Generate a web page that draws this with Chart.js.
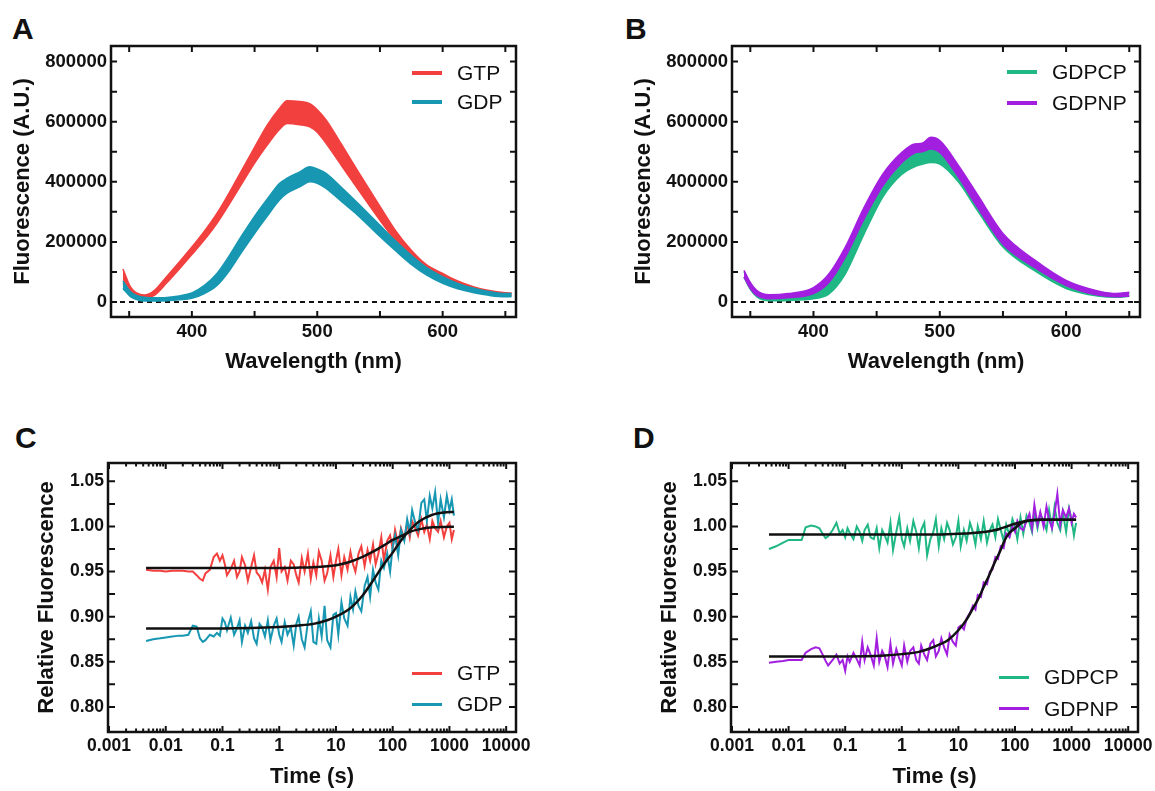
<!DOCTYPE html>
<html>
<head>
<meta charset="utf-8">
<title>Fluorescence spectra and kinetics</title>
<script src="https://cdn.jsdelivr.net/npm/chart.js@4.4.1/dist/chart.umd.min.js"></script>
<style>
  html, body { margin: 0; padding: 0; background: #fff; }
  body { width: 1155px; height: 791px; position: relative; overflow: hidden; font-family: "Liberation Sans", Arial, sans-serif; color: #111; }
  canvas { position: absolute; }
  .panel-letter { position: absolute; font-weight: bold; font-size: 30px; line-height: 30px; }
  .legend-row { position: absolute; height: 24px; line-height: 24px; font-size: 21px; white-space: nowrap; display: flex; align-items: center; }
  .legend-line { display: inline-block; width: 30px; margin-right: 15px; }
</style>
</head>
<body>
<div class="panel-letter" style="left:12px;top:14px">A</div>
<div class="panel-letter" style="left:625px;top:14px">B</div>
<div class="panel-letter" style="left:15px;top:423px">C</div>
<div class="panel-letter" style="left:633px;top:423px">D</div>
<canvas id="chartA"></canvas>
<canvas id="chartB"></canvas>
<canvas id="chartC"></canvas>
<canvas id="chartD"></canvas>

<script>
// ===============================
// Data (A, B: emission spectra, band = spread of replicates)
// ===============================
const wavelengthsA = [345, 351, 356, 362, 370, 380, 390, 400, 410, 420, 430, 440, 450, 460, 470, 476, 486, 494, 500, 507, 520, 532, 550, 562, 575, 587, 600, 612, 625, 637, 650, 655];
const gtpHigh = [110000, 50000, 30000, 23000, 38000, 85000, 133000, 183000, 236000, 295000, 365000, 440000, 515000, 588000, 645000, 670000, 667000, 660000, 640000, 606000, 520000, 438000, 318000, 240000, 172000, 124000, 95000, 70000, 50000, 38000, 31000, 30000];
const gtpLow = [62000, 35000, 18000, 12000, 22000, 64000, 110000, 158000, 207000, 262000, 327000, 395000, 462000, 522000, 575000, 594000, 590000, 583000, 565000, 528000, 450000, 378000, 272000, 206000, 144000, 102000, 76000, 55000, 36000, 26000, 20000, 22000];
const gdpHigh = [70000, 35000, 22000, 16000, 14000, 15000, 20000, 30000, 55000, 95000, 155000, 222000, 285000, 342000, 395000, 412000, 433000, 450000, 443000, 428000, 378000, 330000, 255000, 205000, 155000, 115000, 84000, 62000, 46000, 35000, 28000, 28000];
const gdpLow = [45000, 18000, 8000, 3000, 3000, 4000, 7000, 12000, 28000, 55000, 105000, 168000, 228000, 285000, 340000, 362000, 383000, 400000, 395000, 378000, 332000, 290000, 218000, 172000, 125000, 90000, 62000, 44000, 31000, 22000, 17000, 18000];

const wavelengthsB = [345, 350, 355, 365, 380, 400, 412, 425, 440, 455, 470, 480, 486, 493, 500, 515, 530, 550, 575, 600, 625, 640, 650];
const gdpcpHigh = [101000, 60000, 34000, 17000, 15000, 33000, 64000, 148000, 281000, 398000, 470000, 498000, 505000, 514000, 511000, 437000, 337000, 214000, 128000, 62000, 34000, 27000, 30000];
const gdpcpLow = [83000, 42000, 18000, 4000, 5000, 11000, 26000, 92000, 226000, 350000, 425000, 450000, 458000, 464000, 459000, 398000, 303000, 183000, 104000, 45000, 20000, 16000, 19000];
const gdpnpHigh = [105000, 65000, 39000, 24000, 28000, 48000, 92000, 181000, 314000, 426000, 498000, 526000, 528000, 548000, 537000, 453000, 356000, 228000, 140000, 72000, 37000, 28000, 32000];
const gdpnpLow = [83000, 45000, 22000, 11000, 14000, 28000, 64000, 148000, 276000, 387000, 464000, 496000, 500000, 509000, 498000, 414000, 314000, 192000, 115000, 55000, 23000, 17000, 20000];

const fluorTicks = [0, 200000, 400000, 600000, 800000];
const fluorTickLabels = ["0", "200000", "400000", "600000", "800000"];
const fluorMinorTicks = [100000, 300000, 500000, 700000];
const wavelengthTicks = [400, 500, 600];
const wavelengthTickLabels = ["400", "500", "600"];
const wavelengthMinorTicks = [350, 450, 550, 650];

// ===============================
// Data (C, D: kinetics, log time)
// ===============================
const timesCD = [0.0045, 0.006, 0.008, 0.01, 0.013, 0.017, 0.02, 0.025, 0.03, 0.035,
  0.04, 0.045, 0.05, 0.06, 0.07, 0.08, 0.09, 0.1, 0.11, 0.12,
  0.14, 0.16, 0.18, 0.2, 0.22, 0.25, 0.28, 0.32, 0.36, 0.4,
  0.45, 0.5, 0.56, 0.63, 0.7, 0.8, 0.9, 1, 1.1, 1.25,
  1.4, 1.6, 1.8, 2, 2.2, 2.5, 2.8, 3.2, 3.6, 4,
  4.5, 5, 5.6, 6.3, 7, 8, 9, 10, 11, 12.5,
  14, 16, 18, 20, 22, 25, 28, 32, 36, 40,
  45, 50, 56, 63, 70, 80, 90, 100, 110, 125,
  140, 160, 180, 200, 220, 250, 280, 320, 360, 400,
  450, 500, 560, 630, 700, 800, 900, 1000, 1100, 1200];

const gtpKinetics = [0.952, 0.951, 0.951, 0.950, 0.951, 0.951, 0.951, 0.950, 0.950, 0.946,
  0.942, 0.940, 0.948, 0.952, 0.966, 0.970, 0.962, 0.968, 0.958, 0.946,
  0.953, 0.962, 0.944, 0.950, 0.966, 0.957, 0.940, 0.955, 0.968, 0.949,
  0.945, 0.938, 0.952, 0.930, 0.955, 0.962, 0.944, 0.976, 0.950, 0.955,
  0.940, 0.962, 0.958, 0.946, 0.938, 0.965, 0.950, 0.970, 0.942, 0.960,
  0.946, 0.972, 0.962, 0.940, 0.948, 0.968, 0.944, 0.962, 0.975, 0.946,
  0.966, 0.952, 0.972, 0.958, 0.950, 0.970, 0.978, 0.956, 0.974, 0.962,
  0.980, 0.958, 0.970, 0.988, 0.962, 0.984, 0.990, 0.975, 0.996, 0.980,
  0.998, 0.986, 1.004, 0.988, 1.006, 0.998, 0.990, 1.008, 0.994, 1.002,
  0.986, 1.006, 0.998, 0.994, 1.006, 0.988, 1.000, 1.004, 0.986, 0.996];

const gdpKinetics = [0.873, 0.875, 0.876, 0.877, 0.878, 0.879, 0.879, 0.880, 0.890, 0.889,
  0.876, 0.872, 0.874, 0.880, 0.878, 0.882, 0.879, 0.898, 0.894, 0.885,
  0.899, 0.880, 0.887, 0.896, 0.872, 0.890, 0.882, 0.895, 0.876, 0.870,
  0.892, 0.888, 0.878, 0.896, 0.874, 0.890, 0.898, 0.880, 0.872, 0.894,
  0.880, 0.888, 0.868, 0.892, 0.900, 0.875, 0.866, 0.894, 0.906, 0.872,
  0.870, 0.898, 0.878, 0.912, 0.874, 0.866, 0.902, 0.904, 0.880, 0.916,
  0.898, 0.890, 0.922, 0.908, 0.928, 0.912, 0.906, 0.934, 0.944, 0.922,
  0.952, 0.938, 0.930, 0.962, 0.954, 0.970, 0.950, 0.978, 0.990, 0.968,
  0.996, 0.984, 1.008, 0.994, 1.018, 1.004, 0.996, 1.026, 1.030, 1.006,
  1.034, 1.020, 1.038, 1.004, 1.030, 1.010, 1.034, 1.018, 1.030, 1.012];

const gdpcpKinetics = [0.975, 0.978, 0.982, 0.985, 0.985, 0.985, 0.999, 1.001, 1.000, 0.998,
  0.992, 0.987, 0.989, 0.996, 1.004, 0.992, 0.996, 0.988, 0.998, 0.993,
  0.986, 1.000, 0.994, 0.984, 0.996, 1.002, 0.988, 0.986, 0.998, 0.976,
  0.996, 0.990, 0.982, 1.004, 0.974, 0.994, 1.010, 0.986, 0.978, 0.998,
  0.984, 1.006, 0.994, 0.976, 0.996, 1.004, 0.968, 0.986, 0.994, 1.008,
  0.978, 0.998, 0.986, 1.004, 0.996, 0.980, 0.988, 1.006, 0.978, 0.996,
  0.984, 1.004, 0.994, 0.980, 1.000, 0.986, 1.006, 0.982, 0.996, 1.002,
  0.988, 1.008, 0.996, 0.984, 1.002, 0.990, 1.008, 1.000, 0.986, 1.010,
  0.992, 1.012, 1.004, 0.994, 1.016, 0.998, 1.014, 1.006, 0.996, 1.018,
  0.998, 1.022, 1.004, 0.996, 1.016, 0.994, 1.020, 1.008, 0.990, 1.004];

const gdpnpKinetics = [0.849, 0.850, 0.851, 0.852, 0.852, 0.852, 0.860, 0.864, 0.866, 0.865,
  0.858, 0.851, 0.846, 0.852, 0.858, 0.848, 0.852, 0.840, 0.856, 0.850,
  0.860, 0.853, 0.846, 0.872, 0.852, 0.866, 0.858, 0.846, 0.876, 0.850,
  0.862, 0.856, 0.844, 0.870, 0.848, 0.864, 0.854, 0.846, 0.868, 0.850,
  0.862, 0.866, 0.852, 0.848, 0.868, 0.858, 0.852, 0.870, 0.874, 0.856,
  0.862, 0.876, 0.866, 0.858, 0.880, 0.872, 0.868, 0.888, 0.890, 0.886,
  0.898, 0.904, 0.912, 0.908, 0.924, 0.922, 0.938, 0.936, 0.950, 0.952,
  0.966, 0.964, 0.978, 0.976, 0.992, 0.988, 1.000, 0.994, 1.006, 0.998,
  0.996, 1.006, 1.014, 0.998, 1.024, 1.002, 1.016, 1.000, 1.022, 1.008,
  0.998, 1.014, 1.036, 1.002, 1.018, 1.010, 1.020, 1.004, 1.014, 1.010];

// fitted curves (black)
const fitTimesC = [0.0045, 0.01, 0.1, 1, 2, 4, 7, 10, 15, 20, 30, 45, 70, 100, 150, 200, 300, 500, 800, 1200];
const gtpFit = [0.954, 0.954, 0.954, 0.954, 0.9543, 0.9548, 0.9558, 0.957, 0.9595, 0.962, 0.9665, 0.972, 0.979, 0.985, 0.990, 0.994, 0.997, 0.999, 0.9995, 0.9996];
const gdpFit = [0.887, 0.887, 0.887, 0.8885, 0.890, 0.892, 0.896, 0.900, 0.906, 0.912, 0.924, 0.940, 0.958, 0.971, 0.987, 0.996, 1.006, 1.013, 1.0155, 1.016];

const fitTimesD = [0.0045, 0.1, 0.5, 1, 2, 3.2, 5, 6.5, 10, 14, 18, 23, 28, 35, 43, 55, 66, 80, 100, 130, 180, 300, 1200];
const gdpcpFit = [0.991, 0.991, 0.991, 0.991, 0.991, 0.9911, 0.9912, 0.9914, 0.9918, 0.9922, 0.9926, 0.9932, 0.9938, 0.9946, 0.9957, 0.9975, 0.9992, 1.001, 1.003, 1.005, 1.0067, 1.0074, 1.0074];
const gdpnpFit = [0.856, 0.856, 0.857, 0.8585, 0.861, 0.865, 0.870, 0.874, 0.885, 0.897, 0.909, 0.921, 0.933, 0.946, 0.959, 0.973, 0.985, 0.993, 0.998, 1.004, 1.0067, 1.0074, 1.0074];

const timeTicks = [0.001, 0.01, 0.1, 1, 10, 100, 1000, 10000];
const timeTickLabels = ["0.001", "0.01", "0.1", "1", "10", "100", "1000", "10000"];
const relTicks = [0.80, 0.85, 0.90, 0.95, 1.00, 1.05];
const relTickLabels = ["0.80", "0.85", "0.90", "0.95", "1.00", "1.05"];
const relMinorTicks = [0.825, 0.875, 0.925, 0.975, 1.025];

// colours
const RED = "#F2403F";
const TEAL = "#1797B2";
const GREEN = "#1FB784";
const PURPLE = "#A21FE0";

document.addEventListener("DOMContentLoaded", function () {
  const FONT = '"Liberation Sans", Arial, sans-serif';

  function pairs(xs, ys) {
    return xs.map((x, i) => ({ x: x, y: ys[i] }));
  }

  // ===============================
  // Frame, inward ticks and dashed zero line
  // ===============================
  const frameTicks = {
    id: "frameTicks",
    beforeDatasetsDraw(chart, args, opts) {
      if (!opts.zeroLine) return;
      const a = chart.chartArea;
      const y0 = chart.scales.y.getPixelForValue(0);
      const ctx = chart.ctx;
      ctx.save();
      ctx.strokeStyle = "#111";
      ctx.lineWidth = 2;
      ctx.setLineDash([5, 4]);
      ctx.beginPath();
      ctx.moveTo(a.left, y0);
      ctx.lineTo(a.right, y0);
      ctx.stroke();
      ctx.restore();
    },
    afterDatasetsDraw(chart, args, opts) {
      const a = chart.chartArea;
      const ctx = chart.ctx;
      const xs = chart.scales.x;
      const ys = chart.scales.y;
      ctx.save();
      ctx.strokeStyle = "#111";
      ctx.lineWidth = 2;
      ctx.beginPath();
      opts.xTicks.forEach((t) => {
        const px = xs.getPixelForValue(t.value);
        if (px < a.left + 1 || px > a.right - 1) return;
        ctx.moveTo(px, a.bottom);
        ctx.lineTo(px, a.bottom - t.len);
        ctx.moveTo(px, a.top);
        ctx.lineTo(px, a.top + t.len);
      });
      opts.yTicks.forEach((t) => {
        const py = ys.getPixelForValue(t.value);
        if (py < a.top + 1 || py > a.bottom - 1) return;
        ctx.moveTo(a.left, py);
        ctx.lineTo(a.left + t.len, py);
        ctx.moveTo(a.right, py);
        ctx.lineTo(a.right - t.len, py);
      });
      ctx.stroke();
      ctx.lineWidth = 2.5;
      ctx.strokeRect(a.left, a.top, a.right - a.left, a.bottom - a.top);
      ctx.restore();
    }
  };

  // ===============================
  // Generic panel builder
  // ===============================
  function buildPanel(id, p) {
    const canvas = document.getElementById(id);
    const width = p.right - p.left + 150;
    const height = p.bottom - p.top + 90;
    canvas.width = width;
    canvas.height = height;
    canvas.style.left = (p.left - 110) + "px";
    canvas.style.top = (p.top - 20) + "px";

    const tickFont = { family: FONT, size: p.tickSize, weight: "bold" };
    const titleFont = { family: FONT, size: 22, weight: "bold" };

    return new Chart(canvas, {
      type: "line",
      data: { datasets: p.datasets },
      plugins: [frameTicks],
      options: {
        responsive: false,
        animation: false,
        events: [],
        layout: { padding: { left: 0, top: 20, right: 40, bottom: 0 } },
        elements: { point: { radius: 0 }, line: { tension: 0 } },
        plugins: {
          legend: { display: false },
          tooltip: { enabled: false },
          frameTicks: { xTicks: p.xMarks, yTicks: p.yMarks, zeroLine: p.zeroLine }
        },
        scales: {
          x: {
            type: p.xType,
            position: "bottom",
            min: p.xMin,
            max: p.xMax,
            grid: { display: false, drawTicks: false },
            border: { display: false },
            afterFit: (s) => { s.height = 70; },
            afterBuildTicks: (s) => { s.ticks = p.xTicks.map((v) => ({ value: v })); },
            ticks: {
              autoSkip: false, maxRotation: 0, padding: 4, color: "#111", font: tickFont,
              callback: (v, i) => p.xTickLabels[i]
            },
            title: { display: true, text: p.xTitle, color: "#111", font: titleFont, padding: { top: 0, bottom: 11.5 } }
          },
          y: {
            type: "linear",
            position: "left",
            min: p.yMin,
            max: p.yMax,
            grid: { display: false, drawTicks: false },
            border: { display: false },
            afterFit: (s) => { s.width = 110; },
            afterBuildTicks: (s) => { s.ticks = p.yTicks.map((v) => ({ value: v })); },
            ticks: {
              autoSkip: false, padding: 4, color: "#111", font: tickFont,
              callback: (v, i) => p.yTickLabels[i]
            },
            title: { display: true, text: p.yTitle, color: "#111", font: titleFont, padding: { top: p.yTitlePad, bottom: 0 } }
          }
        }
      }
    });
  }

  // band between the replicate envelope (upper and lower trace)
  function band(xs, hi, lo, color) {
    return [
      { data: pairs(xs, hi), borderColor: color, borderWidth: 1.5, backgroundColor: color, fill: "+1", cubicInterpolationMode: "monotone" },
      { data: pairs(xs, lo), borderColor: color, borderWidth: 1.5, fill: false, cubicInterpolationMode: "monotone" }
    ];
  }

  function trace(xs, ys, color, w) {
    return { data: pairs(xs, ys), borderColor: color, borderWidth: w, fill: false };
  }

  function fitLine(xs, ys) {
    return { data: pairs(xs, ys), borderColor: "#111", borderWidth: 2.5, fill: false, cubicInterpolationMode: "monotone" };
  }

  // tick marks (inward, on all four sides)
  const specXMarks = wavelengthTicks.concat(wavelengthMinorTicks).map((v) => ({ value: v, len: 6 }));
  const specYMarks = fluorTicks.concat(fluorMinorTicks).map((v) => ({ value: v, len: 6 }));
  const timeXMarks = timeTicks.map((v) => ({ value: v, len: 6 }));
  timeTicks.forEach((d) => {
    for (let m = 2; m <= 9; m++) timeXMarks.push({ value: d * m, len: 3.5 });
  });
  const relYMarks = relTicks.concat(relMinorTicks).map((v) => ({ value: v, len: 7 }));

  const specCommon = {
    xType: "linear", xMin: 335.5, xMax: 658.5, yMin: -50000, yMax: 852000,
    xTicks: wavelengthTicks, xTickLabels: wavelengthTickLabels,
    yTicks: fluorTicks, yTickLabels: fluorTickLabels,
    xTitle: "Wavelength (nm)", yTitle: "Fluorescence (A.U.)", yTitlePad: 8.8,
    xMarks: specXMarks, yMarks: specYMarks, zeroLine: true, tickSize: 18.5
  };
  const kinCommon = {
    xType: "logarithmic", xMin: 0.00096, xMax: 14900, yMin: 0.7722, yMax: 1.0703,
    xTicks: timeTicks, xTickLabels: timeTickLabels,
    yTicks: relTicks, yTickLabels: relTickLabels,
    xTitle: "Time (s)", yTitle: "Relative Fluorescence", yTitlePad: 35.8,
    xMarks: timeXMarks, yMarks: relYMarks, zeroLine: false, tickSize: 17.5
  };

  buildPanel("chartA", Object.assign({}, specCommon, {
    left: 111, top: 46, right: 516, bottom: 317,
    datasets: band(wavelengthsA, gdpHigh, gdpLow, TEAL).concat(band(wavelengthsA, gtpHigh, gtpLow, RED))
  }));

  buildPanel("chartB", Object.assign({}, specCommon, {
    left: 732, top: 46, right: 1140, bottom: 317,
    datasets: band(wavelengthsB, gdpnpHigh, gdpnpLow, PURPLE).concat(band(wavelengthsB, gdpcpHigh, gdpcpLow, GREEN))
  }));

  buildPanel("chartC", Object.assign({}, kinCommon, {
    left: 108, top: 463, right: 516, bottom: 732,
    datasets: [
      fitLine(fitTimesC, gdpFit),
      fitLine(fitTimesC, gtpFit),
      trace(timesCD, gdpKinetics, TEAL, 2),
      trace(timesCD, gtpKinetics, RED, 2)
    ]
  }));

  buildPanel("chartD", Object.assign({}, kinCommon, {
    left: 731, top: 463, right: 1138, bottom: 732,
    datasets: [
      fitLine(fitTimesD, gdpnpFit),
      fitLine(fitTimesD, gdpcpFit),
      trace(timesCD, gdpnpKinetics, PURPLE, 2),
      trace(timesCD, gdpcpKinetics, GREEN, 2)
    ]
  }));

  // ===============================
  // Legends (inside the plot, top/bottom right)
  // ===============================
  function addLegend(x, y, gap, thickness, items) {
    items.forEach((item, i) => {
      const row = document.createElement("div");
      row.className = "legend-row";
      row.style.left = x + "px";
      row.style.top = (y + i * gap - 12) + "px";
      const line = document.createElement("span");
      line.className = "legend-line";
      line.style.height = thickness + "px";
      line.style.background = item.color;
      const text = document.createElement("span");
      text.textContent = item.label;
      row.appendChild(line);
      row.appendChild(text);
      document.body.appendChild(row);
    });
  }

  addLegend(412, 73, 29, 4, [{ label: "GTP", color: RED }, { label: "GDP", color: TEAL }]);
  addLegend(1007, 72, 31, 4, [{ label: "GDPCP", color: GREEN }, { label: "GDPNP", color: PURPLE }]);
  addLegend(412, 673, 31, 3, [{ label: "GTP", color: RED }, { label: "GDP", color: TEAL }]);
  addLegend(999, 677, 31.5, 3, [{ label: "GDPCP", color: GREEN }, { label: "GDPNP", color: PURPLE }]);
});
</script>
</body>
</html>
